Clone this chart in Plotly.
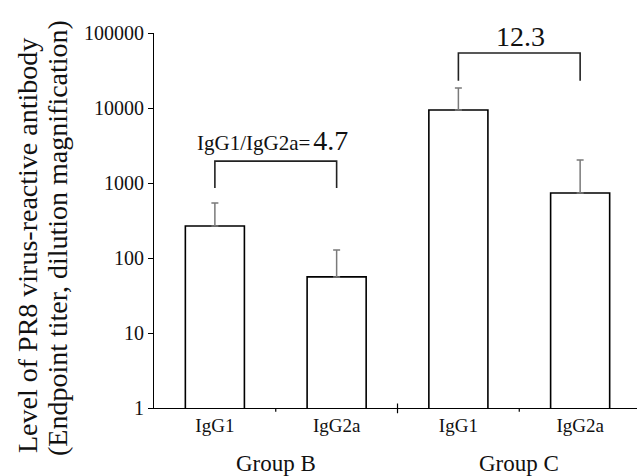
import plotly.graph_objects as go

# Data
categories = ["IgG1", "IgG2a", "IgG1", "IgG2a"]
groups = ["Group B", "Group C"]
titer_mean = [267, 56, 9400, 736]
titer_err_plus = [274, 72, 9100, 1294]
ratio_labels = ["4.7", "12.3"]
ytick_vals = [1, 10, 100, 1000, 10000, 100000]
ytick_text = ["1", "10", "100", "1000", "10000", "100000"]
ytitle_lines = ["Level of PR8 virus-reactive antibody",
                "(Endpoint titer, dilution magnification)"]

FONT = "Liberation Serif"
TXT = "#111111"
W, H = 637, 476
ML, MR, MT, MB = 154, 0, 33, 68
PW, PH = W - ML - MR, H - MT - MB
xpos = list(range(len(categories)))


def px_to_paper(px, py):
    return (px - ML) / PW, (H - MB - py) / PH


fig = go.Figure()
fig.add_trace(go.Bar(
    x=xpos, y=titer_mean, width=0.485,
    marker=dict(color="white", line=dict(color="black", width=1.6)),
    error_y=dict(type="data", symmetric=False, array=titer_err_plus,
                 arrayminus=[0] * len(titer_mean),
                 color="#7a7a7a", thickness=1.5, width=3.5),
    showlegend=False, hoverinfo="skip",
))

shapes = []
# boundary tick marks on x axis
for b in [0.5, 2.5]:
    shapes.append(dict(type="line", xref="x", yref="paper", x0=b, x1=b,
                       y0=0, y1=-0.01, line=dict(color="black", width=1.2)))
shapes.append(dict(type="line", xref="x", yref="paper", x0=1.5, x1=1.5,
                   y0=0.012, y1=-0.014, line=dict(color="black", width=1.2)))

# brackets (shapes on a log axis take data values)
brackets = [(0, 1, 1960, 855), (2, 3, 54000, 23000)]
for x0, x1, ytop, ybot in brackets:
    shapes.append(dict(type="path", xref="x", yref="y",
                       path=f"M {x0} {ybot} L {x0} {ytop} L {x1} {ytop} L {x1} {ybot}",
                       line=dict(color="#222222", width=1.6)))

annotations = [
    dict(x=0.477, y=3.57, xref="x", yref="y", showarrow=False,
         text=f"<span style='font-size:21px'>IgG1/IgG2a=</span> <span style='font-size:28px'>{ratio_labels[0]}</span>",
         font=dict(family=FONT, color=TXT)),
    dict(x=2.513, y=4.95, xref="x", yref="y", showarrow=False,
         text=ratio_labels[1], font=dict(family=FONT, size=28, color=TXT)),
]
for i, g in enumerate(groups):
    annotations.append(dict(x=0.5 + 2 * i, y=-(463 - (H - MB)) / PH, xref="x", yref="paper",
                            yanchor="middle", showarrow=False, text=g,
                            font=dict(family=FONT, size=23, color=TXT)))
# y-axis title as two rotated lines
for xp, yp, line in [(27, 246, ytitle_lines[0]), (57, 238, ytitle_lines[1])]:
    ax_, ay_ = px_to_paper(xp, yp)
    annotations.append(dict(x=ax_, y=ay_, xref="paper", yref="paper",
                            xanchor="center", yanchor="middle", textangle=-90,
                            showarrow=False, text=line,
                            font=dict(family=FONT, size=28, color=TXT)))

fig.update_layout(
    width=W, height=H,
    margin=dict(l=ML, r=MR, t=MT, b=MB, autoexpand=False),
    paper_bgcolor="white", plot_bgcolor="white",
    font=dict(family=FONT, color=TXT),
    shapes=shapes, annotations=annotations,
    xaxis=dict(range=[-0.5, 3.467], tickvals=xpos, ticktext=categories,
               showline=True, linecolor="black", linewidth=1.2,
               ticks="", showgrid=False, zeroline=False,
               tickfont=dict(family=FONT, size=19, color=TXT)),
    yaxis=dict(type="log", range=[0, 5], tickvals=ytick_vals, ticktext=ytick_text,
               showline=True, linecolor="black", linewidth=1.2,
               ticks="outside", ticklen=5, tickcolor="black", tickwidth=1.2,
               showgrid=False, zeroline=False,
               tickfont=dict(family=FONT, size=20, color=TXT)),
)

fig.write_html("out.html", config={"displayModeBar": False},
               post_script="document.body.style.margin='0';")
